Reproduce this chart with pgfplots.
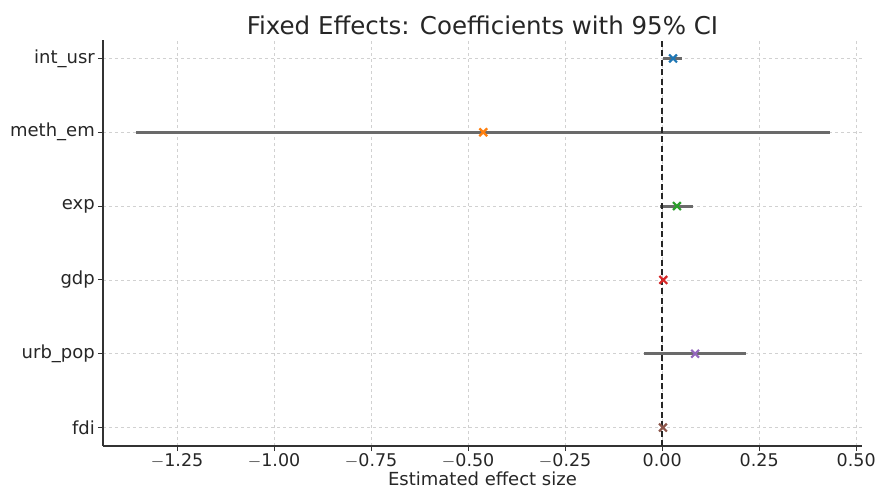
\documentclass[border=0pt]{standalone}
\usepackage{pgfplots}
\pgfplotsset{compat=1.18}
\usepackage{fontspec}
\setmainfont{DejaVu Sans}

\definecolor{tabblue}{HTML}{1F77B4}
\definecolor{taborange}{HTML}{FF7F0E}
\definecolor{tabgreen}{HTML}{2CA02C}
\definecolor{tabred}{HTML}{D62728}
\definecolor{tabpurple}{HTML}{9467BD}
\definecolor{tabbrown}{HTML}{8C564B}
\definecolor{cigray}{HTML}{6A6A6A}

\begin{document}
\begin{tikzpicture}
% overall canvas
\path (-103pt,-43pt) rectangle (780pt,446pt);
\begin{axis}[
  at={(0pt,0pt)}, anchor=south west,
  scale only axis, width=759pt, height=406pt,
  xmin=-1.441, xmax=0.515,
  ymin=-0.25, ymax=5.25,
  axis x line*=bottom, axis y line*=left,
  axis line style={line width=1.2pt, draw=black!80},
  xtick={-1.25,-1,-0.75,-0.5,-0.25,0,0.25,0.5},
  xticklabels={$-$1.25,$-$1.00,$-$0.75,$-$0.50,$-$0.25,0.00,0.25,0.50},
  ytick={0,1,2,3,4,5},
  yticklabels={fdi,urb\_pop,gdp,exp,meth\_em,int\_usr},
  tick align=outside,
  major tick length=5pt,
  tick style={line width=1.1pt, black!80},
  ticklabel style={font=\fontsize{17.5}{20}\selectfont, text=black!85},
  yticklabel style={font=\fontsize{18}{20}\selectfont, inner sep=3pt},
  xticklabel style={inner sep=2pt},
  xlabel={Estimated effect size},
  xlabel style={font=\fontsize{18}{20}\selectfont, text=black!85, yshift=1pt},
  title={Fixed Effects: Coefficients with 95\% CI},
  title style={font=\fontsize{24.5}{28}\selectfont, text=black!85, yshift=-4pt},
  grid=major,
  major grid style={dashed, line width=0.6pt, draw=black!18},
  clip=false,
]
% confidence intervals
\addplot[cigray, line width=3pt] coordinates {(0.002,5) (0.050,5)};
\addplot[cigray, line width=3pt] coordinates {(-1.356,4) (0.433,4)};
\addplot[cigray, line width=3pt] coordinates {(-0.005,3) (0.079,3)};
\addplot[cigray, line width=3pt] coordinates {(-0.002,2) (0.008,2)};
\addplot[cigray, line width=3pt] coordinates {(-0.046,1) (0.216,1)};
\addplot[cigray, line width=3pt] coordinates {(-0.001,0) (0.005,0)};
% reference line at zero
\addplot[black!85, dash pattern=on 6pt off 3.5pt, line width=1.8pt] coordinates {(0,-0.25) (0,5.25)};
% point estimates
\addplot[only marks, mark=x, mark size=5.5pt, line width=2.2pt, tabblue] coordinates {(0.028,5)};
\addplot[only marks, mark=x, mark size=5.5pt, line width=2.2pt, taborange] coordinates {(-0.461,4)};
\addplot[only marks, mark=x, mark size=5.5pt, line width=2.2pt, tabgreen] coordinates {(0.038,3)};
\addplot[only marks, mark=x, mark size=5.5pt, line width=2.2pt, tabred] coordinates {(0.003,2)};
\addplot[only marks, mark=x, mark size=5.5pt, line width=2.2pt, tabpurple] coordinates {(0.085,1)};
\addplot[only marks, mark=x, mark size=5.5pt, line width=2.2pt, tabbrown] coordinates {(0.002,0)};
\end{axis}
\end{tikzpicture}
\end{document}
